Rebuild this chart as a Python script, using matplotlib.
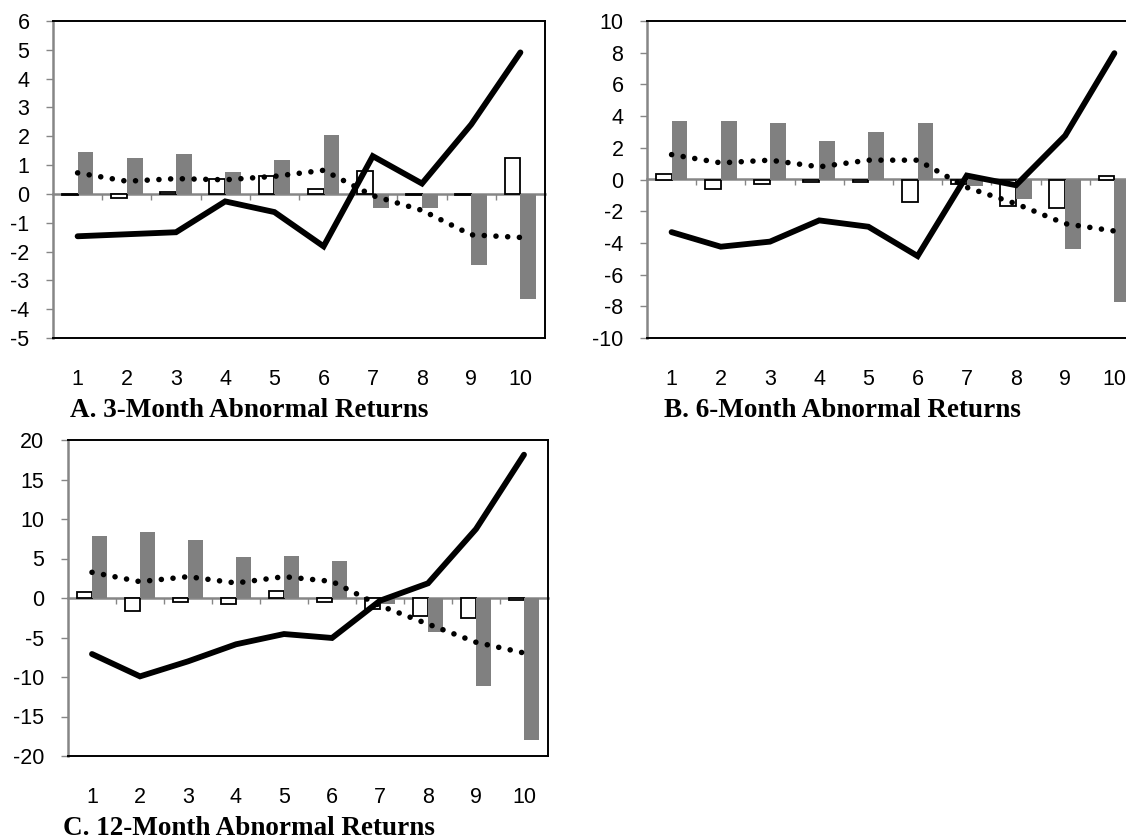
import numpy as np
import matplotlib
matplotlib.use("Agg")
import matplotlib.pyplot as plt

plt.rcParams['font.family'] = ['Liberation Sans', 'DejaVu Sans']
plt.rcParams['axes.unicode_minus'] = False

deciles = np.arange(1, 11)

# ---------------- data ----------------
# A. 3-month
a_white = [-0.05, -0.15, 0.06, 0.50, 0.62, 0.17, 0.81, -0.05, -0.05, 1.24]
a_gray = [1.46, 1.26, 1.39, 0.77, 1.19, 2.03, -0.50, -0.50, -2.46, -3.64]
a_solid = [-1.47, -1.40, -1.33, -0.26, -0.63, -1.82, 1.31, 0.36, 2.41, 4.91]
a_dotted = [0.73, 0.44, 0.53, 0.49, 0.61, 0.82, -0.06, -0.57, -1.42, -1.51]

# B. 6-month
b_white = [0.36, -0.63, -0.27, -0.17, -0.17, -1.41, -0.28, -1.68, -1.78, 0.21]
b_gray = [3.67, 3.67, 3.57, 2.41, 3.00, 3.57, -0.42, -1.22, -4.41, -7.72]
b_solid = [-3.32, -4.24, -3.92, -2.58, -2.98, -4.83, 0.25, -0.36, 2.77, 7.97]
b_dotted = [1.57, 1.05, 1.22, 0.80, 1.22, 1.22, -0.50, -1.53, -2.79, -3.25]

# C. 12-month
c_white = [0.76, -1.65, -0.46, -0.76, 0.93, -0.46, -1.39, -2.32, -2.57, -0.21]
c_gray = [7.90, 8.35, 7.40, 5.15, 5.36, 4.68, -0.76, -4.26, -11.1, -18.0]
c_solid = [-7.09, -9.92, -8.02, -5.86, -4.56, -5.06, -0.34, 1.86, 8.73, 18.14]
c_dotted = [3.25, 2.07, 2.70, 1.90, 2.70, 2.10, -0.97, -3.30, -5.60, -6.96]

W, H = 1126, 840
axis_gray = '#868686'
bar_gray = '#808080'

fig = plt.figure(figsize=(W / 100, H / 100), dpi=100)


def px_axes(left, top, right, bottom):
    return fig.add_axes([left / W, 1 - bottom / H, (right - left) / W, (bottom - top) / H])


def draw_panel(ax, white, gray, solid, dotted, ylim, yticks):
    bw = 0.32
    ax.bar(deciles - bw / 2, white, width=bw, color='white', edgecolor='black',
           linewidth=1.3, zorder=2)
    ax.bar(deciles + bw / 2, gray, width=bw, color=bar_gray, edgecolor='none', zorder=2)
    ax.plot(deciles, solid, color='black', linewidth=4.2, solid_capstyle='round',
            solid_joinstyle='miter', zorder=4)
    ax.plot(deciles, dotted, color='black', linewidth=4.0,
            linestyle=(0, (0.01, 2.1)), dash_capstyle='round', zorder=4)

    ax.set_xlim(0.5, 10.5)
    ax.set_ylim(*ylim)
    ax.set_yticks(yticks)
    ax.set_xticks(deciles)
    ax.tick_params(axis='x', length=0, pad=22, labelsize=15.5)
    ax.tick_params(axis='y', length=5, width=1, color=axis_gray, pad=12, labelsize=15.5)

    for side in ('top', 'right', 'bottom'):
        ax.spines[side].set_color('black')
        ax.spines[side].set_linewidth(1.4)
    ax.spines['left'].set_color(axis_gray)
    ax.spines['left'].set_linewidth(1.8)

    # category axis crossing at zero
    sec = ax.secondary_xaxis(0, transform=ax.transData)
    sec.set_xticks(np.arange(1.5, 10.5, 1))
    sec.tick_params(direction='out', length=4, width=1, color=axis_gray, labelbottom=False)
    sec.spines['bottom'].set_color(axis_gray)
    sec.spines['bottom'].set_linewidth(1.8)


ax_a = px_axes(53, 21, 545, 338)
draw_panel(ax_a, a_white, a_gray, a_solid, a_dotted, (-5, 6), np.arange(-5, 7, 1))

ax_b = px_axes(647, 21, 1139, 338)
draw_panel(ax_b, b_white, b_gray, b_solid, b_dotted, (-10, 10), np.arange(-10, 12, 2))

ax_c = px_axes(68, 440, 548, 756)
draw_panel(ax_c, c_white, c_gray, c_solid, c_dotted, (-20, 20), np.arange(-20, 25, 5))

title_font = dict(family=['Liberation Serif', 'DejaVu Serif'], fontweight='bold', fontsize=19.5)
fig.text(70 / W, 1 - 417 / H, 'A. 3-Month Abnormal Returns', ha='left', va='baseline', **title_font)
fig.text(664 / W, 1 - 417 / H, 'B. 6-Month Abnormal Returns', ha='left', va='baseline', **title_font)
fig.text(63 / W, 1 - 835 / H, 'C. 12-Month Abnormal Returns', ha='left', va='baseline', **title_font)

fig.savefig('out.png', dpi=100)
